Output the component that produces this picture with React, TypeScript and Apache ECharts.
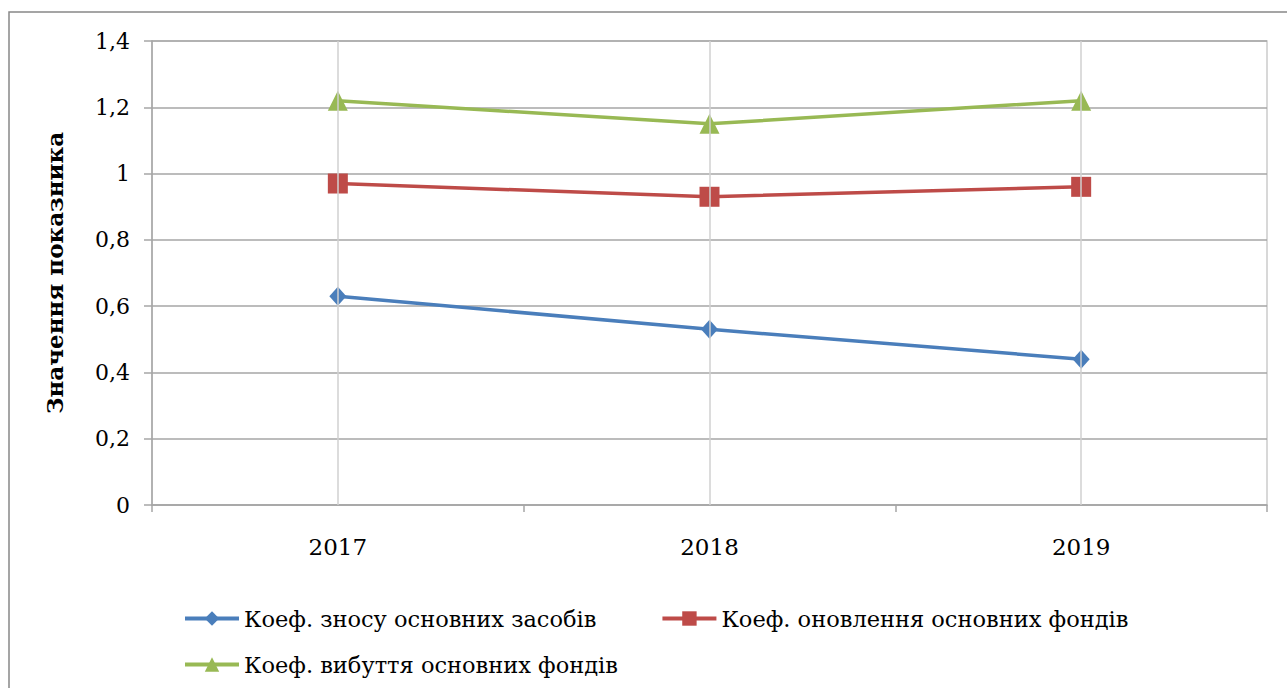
import React, { useEffect, useRef } from "react";
import * as echarts from "echarts";

const categories = ["2017", "2018", "2019"];
const seriesNames = [
  "Коеф. зносу основних засобів",
  "Коеф. оновлення основних фондів",
  "Коеф. вибуття основних фондів",
];
const wearValues = [0.63, 0.53, 0.44];
const renewalValues = [0.97, 0.93, 0.96];
const disposalValues = [1.22, 1.15, 1.22];
const yTicks = { min: 0, max: 1.4, interval: 0.2 };
const yAxisTitle = "Значення показника";

const FONT = "DejaVu Serif";

export default function App() {
  const ref = useRef<HTMLDivElement>(null);
  useEffect(() => {
    if (!ref.current) return;
    const chart = echarts.init(ref.current, undefined, { renderer: "svg" });
    const lineSeries = (name: string, data: number[], color: string, symbol: string, size: number | number[]) => ({
      name,
      type: "line",
      data,
      symbol,
      symbolSize: size,
      showAllSymbol: true,
      lineStyle: { color, width: 3.5 },
      itemStyle: { color },
    });
    const legendCommon = {
      itemWidth: 54,
      itemHeight: 18,
      lineStyle: { width: 4 },
      textStyle: { fontFamily: FONT, fontSize: 22.5, color: "#000" },
    };
    chart.setOption({
      animation: false,
      backgroundColor: "#ffffff",
      textStyle: { fontFamily: FONT },
      grid: {
        left: 152,
        top: 41,
        width: 1115,
        height: 464,
        show: true,
        borderColor: "#cccccc",
        borderWidth: 1.5,
      },
      graphic: [
        {
          type: "rect",
          shape: { x: 9, y: 12, width: 1300, height: 700 },
          style: { fill: "none", stroke: "#888888", lineWidth: 1.5 },
          silent: true,
          z: -1,
        },
      ],
      legend: [
        {
          ...legendCommon,
          data: [seriesNames[0], seriesNames[1]],
          left: 178,
          top: 602,
          itemGap: 64,
        },
        {
          ...legendCommon,
          data: [seriesNames[2]],
          left: 178,
          top: 648,
        },
      ],
      xAxis: {
        type: "category",
        data: categories,
        boundaryGap: true,
        axisLine: { lineStyle: { color: "#a6a6a6", width: 1.5 } },
        axisTick: { show: true, length: 7, lineStyle: { color: "#a6a6a6", width: 1.5 } },
        axisLabel: { margin: 30, fontFamily: FONT, fontSize: 23, color: "#000" },
        splitLine: { show: false },
      },
      yAxis: {
        type: "value",
        min: yTicks.min,
        max: yTicks.max,
        interval: yTicks.interval,
        name: yAxisTitle,
        nameLocation: "middle",
        nameGap: 86,
        nameTextStyle: { fontFamily: FONT, fontSize: 23, fontWeight: "bold", color: "#000" },
        axisLine: { show: true, lineStyle: { color: "#a6a6a6", width: 1.5 } },
        axisTick: { show: true, length: 8, lineStyle: { color: "#a6a6a6", width: 1.5 } },
        axisLabel: {
          margin: 22,
          fontFamily: FONT,
          fontSize: 22,
          color: "#000",
          formatter: (v: number) => (Math.round(v * 10) / 10).toString().replace(".", ","),
        },
        splitLine: { show: true, lineStyle: { color: "#a6a6a6", width: 1.5 } },
      },
      series: [
        {
          ...lineSeries(seriesNames[0], wearValues, "#4a7ebb", "diamond", [17, 19]),
          markLine: {
            silent: true,
            symbol: "none",
            label: { show: false },
            lineStyle: { color: "#d0d0d0", width: 1.5, type: "solid" },
            data: categories.map((c) => ({ xAxis: c })),
          },
        },
        lineSeries(seriesNames[1], renewalValues, "#be4b48", "rect", 20),
        lineSeries(seriesNames[2], disposalValues, "#98b954", "triangle", 20),
      ],
    });
    return () => chart.dispose();
  }, []);
  return (
    <div
      ref={ref}
      style={{ position: "fixed", left: 0, top: 0, width: 1287, height: 688 }}
    />
  );
}
